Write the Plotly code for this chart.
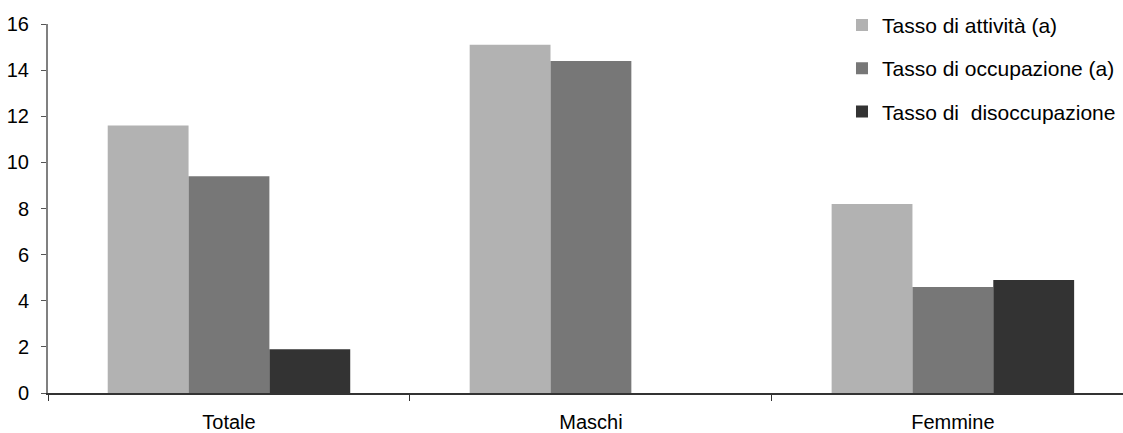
import plotly.graph_objects as go

categories = ["Totale", "Maschi", "Femmine"]
attivita = [11.6, 15.1, 8.2]
occupazione = [9.4, 14.4, 4.6]
disoccupazione = [1.9, None, 4.9]
series_names = ["Tasso di attività (a)", "Tasso di occupazione (a)", "Tasso di  disoccupazione"]
colors = ["#b2b2b2", "#777777", "#333333"]
y_ticks = [0, 2, 4, 6, 8, 10, 12, 14, 16]

fig = go.Figure()
for i, (name, vals, col) in enumerate(zip(series_names, [attivita, occupazione, disoccupazione], colors)):
    fig.add_trace(go.Bar(x=categories, y=vals, name=name, marker=dict(color=col, line=dict(width=0)),
                         legendgroup=str(i)))

fig.update_layout(
    width=1123, height=433,
    margin=dict(l=48, r=0, t=24, b=40, autoexpand=False),
    paper_bgcolor="white", plot_bgcolor="white",
    font=dict(family="Liberation Sans, Arial, sans-serif", size=20, color="#000000"),
    barmode="group", bargap=0.33, bargroupgap=0,
    showlegend=True,
    legend=dict(x=0.7386, y=1.052, xanchor="left", yanchor="top", bgcolor="rgba(0,0,0,0)",
                traceorder="grouped", tracegroupgap=13, font=dict(size=21),
                itemclick=False),
    xaxis=dict(type="category", range=[-0.5, 2.47], showline=True, linecolor="#333333", linewidth=1.5,
               ticks="outside", tickson="boundaries", ticklen=6, tickcolor="#333333", tickwidth=1,
               showgrid=False, zeroline=False, ticklabelstandoff=10, automargin=False),
    yaxis=dict(range=[0, 16], tickvals=y_ticks, showline=True, linecolor="#808080", linewidth=2,
               ticks="outside", ticklen=5, tickcolor="#555555", tickwidth=1,
               showgrid=False, zeroline=False, ticklabelstandoff=8, automargin=False),
)

fig.write_html("out.html", config={"displayModeBar": False},
               post_script="document.body.style.margin='0';document.body.style.overflow='hidden';")
